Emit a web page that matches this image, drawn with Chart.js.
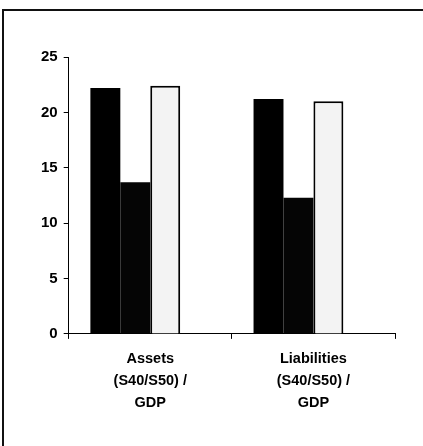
<!DOCTYPE html>
<html>
<head>
<meta charset="utf-8">
<script src="https://cdn.jsdelivr.net/npm/chart.js@4"></script>
<style>
  html, body { margin: 0; padding: 0; background: #fff; }
  #wrap { position: relative; width: 423px; height: 446px; }
  #frame { position: absolute; left: 2px; top: 9px; right: 0; bottom: 0;
           border-left: 2px solid #111; border-top: 2px solid #111; pointer-events: none; }
</style>
</head>
<body>
<div id="wrap">
  <canvas id="bars" width="423" height="446"></canvas>
  <div id="frame"></div>
</div>
<script>
const categories = [
  ['Assets', '(S40/S50) /', 'GDP'],
  ['Liabilities', '(S40/S50) /', 'GDP']
];
const seriesA = [22.2, 21.2];
const seriesB = [13.7, 12.3];
const seriesC = [22.4, 21.0];
// fourth series is empty in the picture but still keeps its slot in each group
const seriesD = [0, 0];
const yTicks = [0, 5, 10, 15, 20, 25];

document.addEventListener("DOMContentLoaded", function() {
  const tickFont = { family: 'Liberation Sans, Arial, sans-serif', size: 15, weight: 'bold' };

  const barConfig = {
    type: 'bar',
    data: {
      labels: categories,
      datasets: [
        { data: seriesA, backgroundColor: '#000000', borderWidth: 0 },
        { data: seriesB, backgroundColor: '#050505', borderWidth: 0 },
        { data: seriesC, backgroundColor: '#f3f3f3', borderColor: '#000000', borderWidth: 2, borderSkipped: 'bottom' },
        { data: seriesD, backgroundColor: 'rgba(0,0,0,0)', borderWidth: 0 },
      ],
    },
    options: {
      responsive: false,
      animation: false,
      layout: { padding: { left: 35, right: 28, top: 57, bottom: 23 } },
      plugins: {
        legend: { display: false },
        tooltip: { enabled: false },
      },
      datasets: { bar: { categoryPercentage: 0.734, barPercentage: 1.0 } },
      scales: {
        x: {
          grid: { offset: true, drawOnChartArea: false, color: '#000', tickLength: 5, tickWidth: 1 },
          border: { color: '#000', width: 1 },
          ticks: { color: '#000', font: { family: 'Liberation Sans, Arial, sans-serif', size: 14.5, weight: 'bold', lineHeight: 1.52 }, padding: 9, maxRotation: 0 },
        },
        y: {
          min: 0,
          max: 25,
          afterBuildTicks: function(axis) { axis.ticks = yTicks.map(v => ({ value: v })); },
          grid: { drawOnChartArea: false, color: '#000', tickLength: 5 },
          border: { color: '#000', width: 1 },
          ticks: { color: '#000', font: tickFont, padding: 6 },
        },
      },
    },
  };

  const barCtx = document.getElementById('bars');
  window.myBars = new Chart(barCtx, barConfig);
});
</script>
</body>
</html>
